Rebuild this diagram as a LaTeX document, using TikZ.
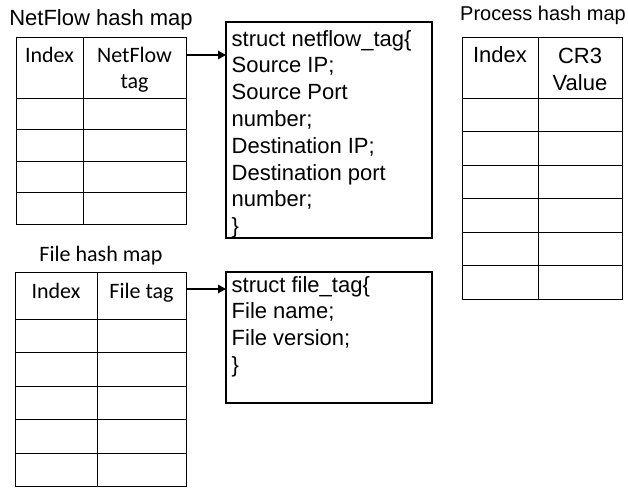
\documentclass[tikz,border=0pt]{standalone}
\usepackage{fontspec}
\setmainfont{Liberation Sans}
\newfontfamily\calibri{Carlito}
\usetikzlibrary{arrows.meta}
\begin{document}
\begin{tikzpicture}[x=1pt,y=-1pt,
  cell/.style={draw=black, line width=1pt, inner sep=0pt, outer sep=0pt, anchor=north west},
  structbox/.style={draw=black, line width=2pt, inner sep=0pt, outer sep=0pt, anchor=north west},
  structtxt/.style={font=\fontsize{22pt}{26.8pt}\selectfont, inner sep=0pt, align=left, anchor=base west},
  hdrcal/.style={font=\calibri\fontsize{22pt}{26pt}\selectfont, inner sep=0pt, align=center, anchor=base},
  hdrarial/.style={font=\fontsize{22pt}{27pt}\selectfont, inner sep=0pt, align=center, anchor=base},
  titlearial/.style={font=\fontsize{22pt}{26pt}\selectfont, inner sep=0pt, anchor=base},
  conn/.style={-{Triangle[length=8pt,width=8.5pt]}, line width=1.5pt},
]
\useasboundingbox (0,0) rectangle (628,487);

% ---------- NetFlow hash map ----------
% (multi-line nodes are placed by the baseline of their last line)
\node[titlearial] (nftitle) at (101,26) {NetFlow hash map};
\node[cell, minimum width=67pt, minimum height=60pt] (nfidx) at (16,38) {};
\node[cell, minimum width=103pt, minimum height=60pt] (nftag) at (83,38) {};
\node[hdrcal] (nfidxt) at ([yshift=-24pt]nfidx.north) {Index};
\node[hdrcal] (nftagt) at ([yshift=-50pt]nftag.north) {NetFlow\\tag};
\foreach \i in {1,...,4} {
  \node[cell, minimum width=67pt, minimum height=31.5pt] (nfa\i) at (16,{98+31.5*(\i-1)}) {};
  \node[cell, minimum width=103pt, minimum height=31.5pt] (nfb\i) at (83,{98+31.5*(\i-1)}) {};
}

% ---------- netflow_tag structure ----------
\node[structbox, minimum width=206pt, minimum height=216pt] (nfbox) at (226,22) {};
\node[structtxt] (nftxt) at ([xshift=5.5pt,yshift=-211.6pt]nfbox.north west)
  {struct netflow\_tag\{\\Source IP;\\Source Port\\number;\\Destination IP;\\Destination port\\number;\\\}};
\draw[conn] ([yshift=13pt]nftag.east) coordinate (nfa) -- (nfa -| nfbox.west);

% ---------- File hash map ----------
\node[hdrcal] (ftitle) at (101,261) {File hash map};
\node[cell, minimum width=82pt, minimum height=47pt] (fidx) at (15,272) {};
\node[cell, minimum width=89pt, minimum height=47pt] (ftag) at (97,272) {};
\node[hdrcal] (fidxt) at ([yshift=-26pt]fidx.north) {Index};
\node[hdrcal] (ftagt) at ([yshift=-26pt]ftag.north) {File tag};
\foreach \i in {1,...,5} {
  \node[cell, minimum width=82pt, minimum height=33.5pt] (fa\i) at (15,{319+33.5*(\i-1)}) {};
  \node[cell, minimum width=89pt, minimum height=33.5pt] (fb\i) at (97,{319+33.5*(\i-1)}) {};
}

% ---------- file_tag structure ----------
\node[structbox, minimum width=206pt, minimum height=131pt] (fbox) at (226,272) {};
\node[structtxt] (ftxt) at ([xshift=5.5pt,yshift=-100.4pt]fbox.north west)
  {struct file\_tag\{\\File name;\\File version;\\\}};
\draw[conn] ([yshift=6.5pt]ftag.east) coordinate (fa) -- (fa -| fbox.west);

% ---------- Process hash map ----------
\node[titlearial, font=\fontsize{20pt}{24pt}\selectfont] (ptitle) at (543,21) {Process hash map};
\node[cell, minimum width=76pt, minimum height=60pt] (pidx) at (462,38) {};
\node[cell, minimum width=84pt, minimum height=60pt] (pcr) at (538,38) {};
\node[hdrarial] (pidxt) at ([yshift=-25pt]pidx.north) {Index};
\node[hdrarial] (pcrt) at ([yshift=-52pt]pcr.north) {CR3\\Value};
\foreach \i in {1,...,6} {
  \node[cell, minimum width=76pt, minimum height=33.5pt] (pa\i) at (462,{98+33.5*(\i-1)}) {};
  \node[cell, minimum width=84pt, minimum height=33.5pt] (pb\i) at (538,{98+33.5*(\i-1)}) {};
}
\end{tikzpicture}
\end{document}
